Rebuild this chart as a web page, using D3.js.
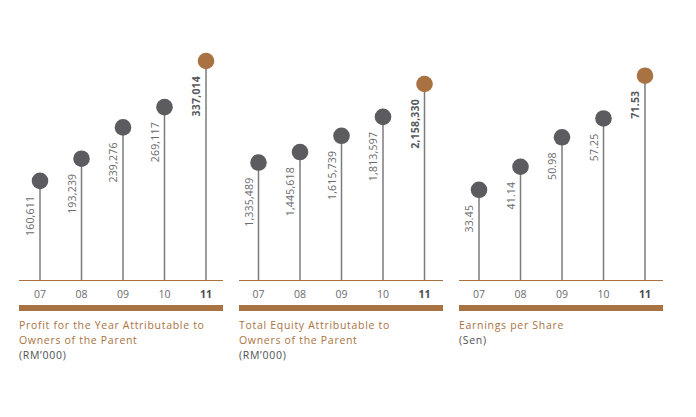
<!DOCTYPE html>
<html><head><meta charset="utf-8">
<script src="https://cdn.jsdelivr.net/npm/d3@7"></script>
<style>body{margin:0;background:#fff}svg{display:block}text{font-family:"Open Sans",sans-serif}</style>
</head><body><svg id="c" width="696" height="417"></svg>
<script>
const years = ["07","08","09","10","11"];
const profit = [160611,193239,239276,269117,337014];
const equity = [1335489,1445618,1615739,1813597,2158330];
const eps = [33.45,41.14,50.98,57.25,71.53];
const titles = [
  ["Profit for the Year Attributable to","Owners of the Parent"],
  ["Total Equity Attributable to","Owners of the Parent"],
  ["Earnings per Share"]
];
const units = ["(RM\u2019000)","(RM\u2019000)","(Sen)"];

const panels = [
  {values: profit, fmt: d3.format(","), left: 19, top: 61, off: 21},
  {values: equity, fmt: d3.format(","), left: 239, top: 84, off: 19.5},
  {values: eps, fmt: d3.format(".2f"), left: 459, top: 75.7, off: 20}
];
const W = 204, zeroY = 290, baseY = 280;
const brown = "#a97243", dark = "#5c5c60", stem = "#7b7b7d", txt = "#6a6b6e";
const svg = d3.select("#c");

panels.forEach((p, i) => {
  const g = svg.append("g");
  const x = d3.scalePoint().domain(years).range([p.left + p.off, p.left + p.off + 166]);
  const y = d3.scaleLinear().domain([0, d3.max(p.values)]).range([zeroY, p.top]);
  const last = years.length - 1;

  g.selectAll("line.stem").data(p.values).join("line")
    .attr("x1", (d,j) => x(years[j])).attr("x2", (d,j) => x(years[j]))
    .attr("y1", d => y(d)).attr("y2", baseY)
    .attr("stroke", stem).attr("stroke-width", 1.5);
  g.append("line").attr("x1", p.left).attr("x2", p.left + W)
    .attr("y1", baseY + 0.5).attr("y2", baseY + 0.5)
    .attr("stroke", brown).attr("stroke-width", 1.2);
  g.selectAll("circle").data(p.values).join("circle")
    .attr("cx", (d,j) => x(years[j])).attr("cy", d => y(d)).attr("r", 8.3)
    .attr("fill", (d,j) => j === last ? brown : dark);
  g.selectAll("text.val").data(p.values).join("text")
    .attr("transform", (d,j) => `translate(${x(years[j]) - 6},${y(d) + 15}) rotate(-90)`)
    .attr("text-anchor", "end")
    .attr("font-size", 10.5)
    .attr("letter-spacing", 0.2)
    .attr("font-weight", (d,j) => j === last ? 700 : 400)
    .attr("fill", (d,j) => j === last ? "#55575b" : txt)
    .text(d => p.fmt(d));
  g.selectAll("text.yr").data(years).join("text")
    .attr("x", d => x(d)).attr("y", 298)
    .attr("text-anchor", "middle").attr("font-size", 10.5)
    .attr("font-weight", (d,j) => j === last ? 700 : 400)
    .attr("fill", (d,j) => j === last ? "#4a4b4e" : txt)
    .text(d => d);
  g.append("rect").attr("x", p.left).attr("y", 305).attr("width", W).attr("height", 6)
    .attr("fill", brown);
  titles[i].forEach((t, k) => {
    g.append("text").attr("x", p.left).attr("y", 329 + k * 15)
      .attr("font-size", 10.5).attr("letter-spacing", 0.7).attr("fill", "#a9733f").text(t);
  });
  g.append("text").attr("x", p.left).attr("y", 329 + titles[i].length * 15)
    .attr("font-size", 10.5).attr("letter-spacing", 0.7).attr("fill", "#4f5054").text(units[i]);
});
</script></body></html>
